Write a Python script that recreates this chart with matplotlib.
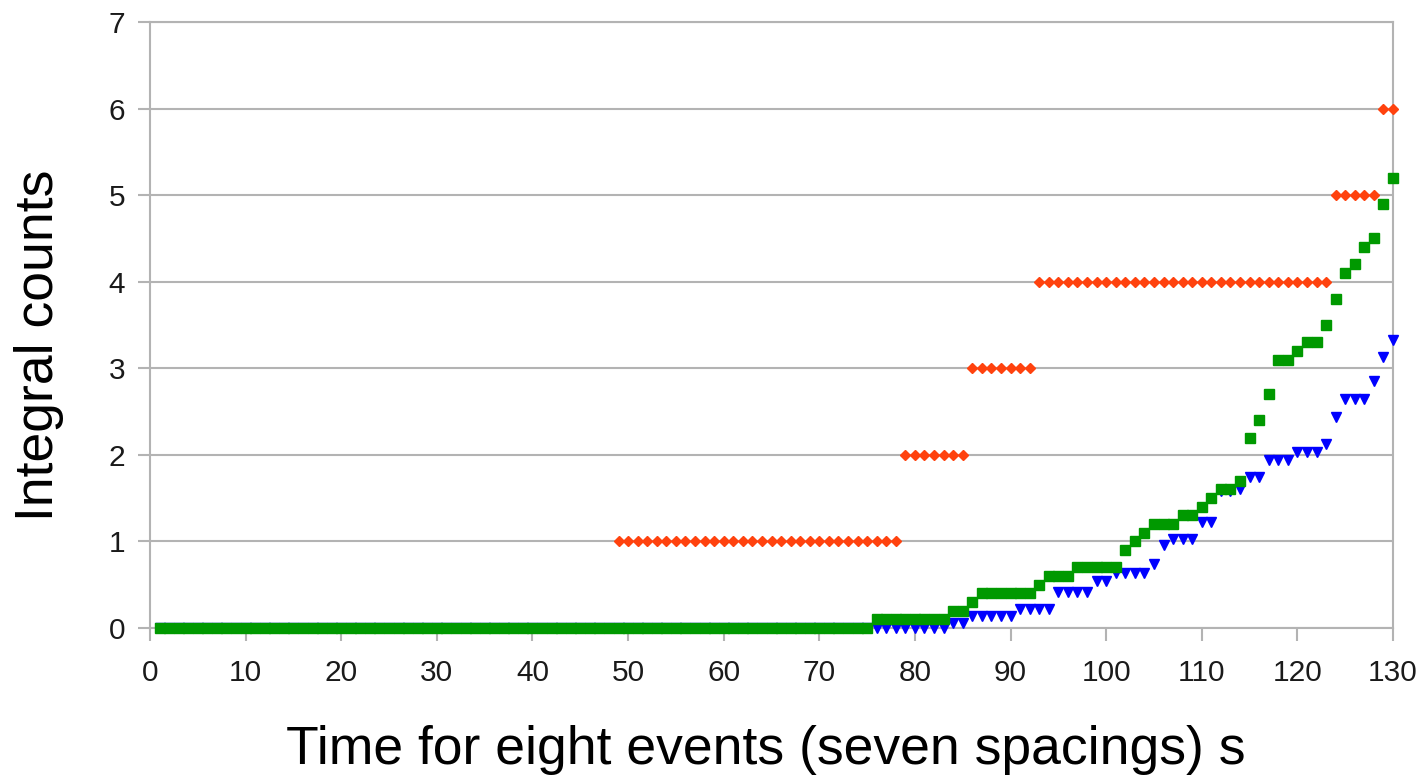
import matplotlib
matplotlib.use("Agg")
import matplotlib.pyplot as plt
import numpy as np

# time axis: one point per second
t = np.arange(1, 131)

# observed integral counts (orange), visible from t=49 on
obs_t = np.arange(49, 131)
obs_counts = np.array([1]*30 + [2]*7 + [3]*7 + [4]*31 + [5]*5 + [6]*2)

# expected counts, model A (green squares)
green = np.array([0.0]*75 + [0.1]*8 + [0.2]*2 + [0.3] + [0.4]*6 + [0.5] + [0.6]*3
                 + [0.7]*5 + [0.9, 1.0, 1.1] + [1.2]*3 + [1.3]*2 + [1.4, 1.5]
                 + [1.6]*2 + [1.7, 2.2, 2.4, 2.7] + [3.1]*2 + [3.2] + [3.3]*2
                 + [3.5, 3.8, 4.1, 4.2, 4.4, 4.5, 4.9, 5.2])

# expected counts, model B (blue triangles)
blue = np.array([0.0]*83 + [0.06]*2 + [0.135]*5 + [0.22]*4 + [0.42]*4 + [0.54]*2
                + [0.64]*4 + [0.74, 0.955] + [1.03]*3 + [1.23]*2 + [1.58]*2
                + [1.61] + [1.74]*2 + [1.94]*3 + [2.03]*3 + [2.12, 2.44]
                + [2.64]*3 + [2.85, 3.13, 3.33])

plt.rcParams['font.family'] = ['Liberation Sans', 'DejaVu Sans']

fig = plt.figure(figsize=(14.22, 7.79), dpi=100)
ax = fig.add_axes([150/1422, 1 - 628/779, (1393-150)/1422, (628-22)/779])

ax.plot(t, blue, linestyle='none', marker='v', ms=6.5, color='#0000ff',
        zorder=3, clip_on=False)
ax.plot(obs_t, obs_counts, linestyle='none', marker='D', ms=5, color='#ff420e',
        zorder=4, clip_on=False)
ax.plot(t, green, linestyle='none', marker='s', ms=7.8, color='#009900',
        zorder=5, clip_on=False)

ax.set_xlim(0, 130)
ax.set_ylim(0, 7)
ax.set_xticks(np.arange(0, 131, 10))
ax.set_yticks(np.arange(0, 8, 1))
ax.yaxis.grid(True, color='#b3b3b3', linewidth=1.5)
ax.set_axisbelow(True)
for s in ax.spines.values():
    s.set_color('#b3b3b3')
    s.set_linewidth(1.5)
ax.tick_params(axis='both', colors='#b3b3b3', length=9, width=1.5,
               labelcolor='#1a1a1a', labelsize=21.5, pad=9)
ax.tick_params(axis='x', pad=13)

ax.set_xlabel('Time for eight events (seven spacings) s', fontsize=38.5, labelpad=28)
ax.set_ylabel('Integral counts', fontsize=38.5, labelpad=32)
ax.xaxis.label.set_x(0.495)
ax.yaxis.label.set_y(0.467)

fig.savefig('out.png', dpi=100)
